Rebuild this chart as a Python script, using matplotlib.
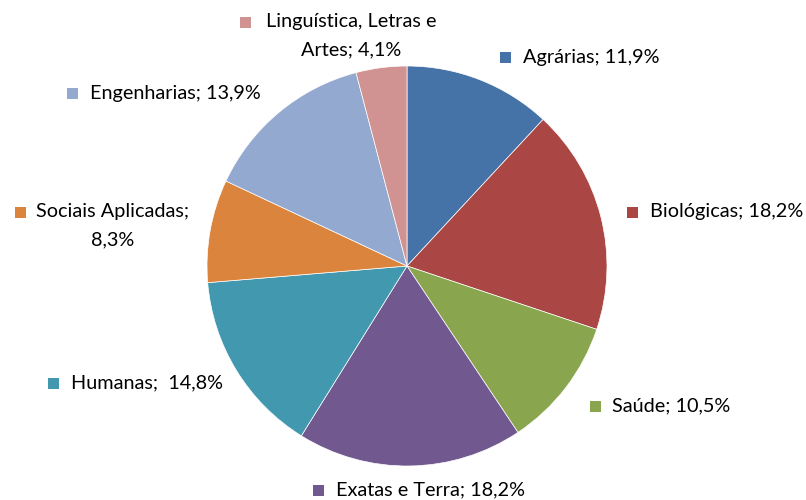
import matplotlib
matplotlib.use("Agg")
import matplotlib.pyplot as plt
from matplotlib.patches import Rectangle

categories = ["Agrárias", "Biológicas", "Saúde", "Exatas e Terra", "Humanas",
              "Sociais Aplicadas", "Engenharias", "Linguística, Letras e Artes"]
values = [11.9, 18.2, 10.5, 18.2, 14.8, 8.3, 13.9, 4.1]
label_texts = ["Agrárias; 11,9%", "Biológicas; 18,2%", "Saúde; 10,5%",
               "Exatas e Terra; 18,2%", "Humanas;  14,8%",
               "Sociais Aplicadas;\n8,3%", "Engenharias; 13,9%",
               "Linguística, Letras e\nArtes; 4,1%"]
colors = ["#4572A7", "#AA4643", "#89A54E", "#71588F", "#4198AF",
          "#DB843D", "#93A9CF", "#D19392"]

W, H = 806, 500
fig = plt.figure(figsize=(W / 100, H / 100), dpi=100)
ax = fig.add_axes([0, 0, 1, 1])

cx, cy, r = 407, H - 266, 200
ax.pie(values, colors=colors, startangle=90, counterclock=False,
       center=(cx, cy), radius=r, frame=True,
       wedgeprops=dict(edgecolor="white", linewidth=0.5))
ax.set_xlim(0, W)
ax.set_ylim(0, H)
ax.set_aspect("equal")
ax.axis("off")

# label layout: (square x, square y (top-based px), text x, first line y, ha)
layout = [
    (505, 57, 523, 57, "left"),
    (632, 212, 650, 212, "left"),
    (595, 406, 612, 406, "left"),
    (318, 490, 336, 490, "left"),
    (53, 383, 71, 383, "left"),
    (20, 212, 113, 212, "center"),
    (72, 93, 90, 93, "left"),
    (245, 22, 351, 22, "center"),
]
font = dict(family=["Lato", "DejaVu Sans"], size=14.3, color="#000000")
sq = 11
for (sx, sy, tx, ty, ha), txt, col in zip(layout, label_texts, colors):
    ax.add_patch(Rectangle((sx - sq / 2, H - sy - sq / 2), sq, sq,
                           facecolor=col, edgecolor="none"))
    for i, line in enumerate(txt.split("\n")):
        ax.text(tx, H - ty - 28 * i, line, ha=ha, va="center", **font)

fig.savefig("out.png", dpi=100)
